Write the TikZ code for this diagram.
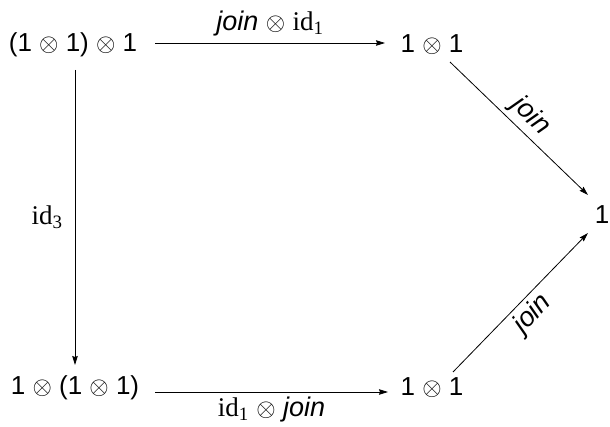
\documentclass[tikz,border=0pt]{standalone}
\usepackage{fontspec}
\setmainfont{Liberation Sans}
\newfontfamily\tms{Liberation Serif}
\usetikzlibrary{arrows.meta,calc}
\tikzset{
  obj/.style={inner sep=0pt, outer sep=0pt, font=\fontsize{26}{29}\selectfont},
  lbl/.style={font=\fontsize{27}{30}\selectfont, inner sep=0pt},
  arr/.style={line width=0.8pt, -{Stealth[length=9pt,width=5.5pt,inset=1pt]}}
}
\newcommand{\ot}{\ensuremath{\otimes}}
\newcommand{\jn}{\textit{join}}
\newcommand{\idn}[1]{{\tms id\textsubscript{#1}}}
\begin{document}
\begin{tikzpicture}[x=1pt,y=-1pt]
\useasboundingbox (0,0) rectangle (610,427);
\node[obj] (A) at (73,45) {(1 \ot{} 1) \ot{} 1};
\node[obj] (B) at (432,45) {1 \ot{} 1};
\node[obj] (C) at (602,215) {1};
\node[obj] (D) at (75,388) {1 \ot{} (1 \ot{} 1)};
\node[obj] (E) at (432,388) {1 \ot{} 1};
\draw[arr] ($(A)+(82,-2)$) -- node[lbl, above=6pt] {\jn{} \ot{} \idn{1}} ($(B)+(-47,-2)$);
\draw[arr] ($(A)+(2,25)$) -- node[lbl, left=12pt] {\idn{3}} ($(D)+(0,-23)$);
\draw[arr] ($(D)+(80,4)$) -- node[lbl, below=5pt] {\idn{1} \ot{} \jn} ($(E)+(-44,4)$);
\draw[arr] ($(B)+(18,17)$) -- node[lbl, sloped, above=4pt] {\jn} ($(C)+(-14,-20)$);
\draw[arr] ($(E)+(21,-16)$) -- node[lbl, sloped, below=4pt] {\jn} ($(C)+(-14,18)$);
\end{tikzpicture}
\end{document}
